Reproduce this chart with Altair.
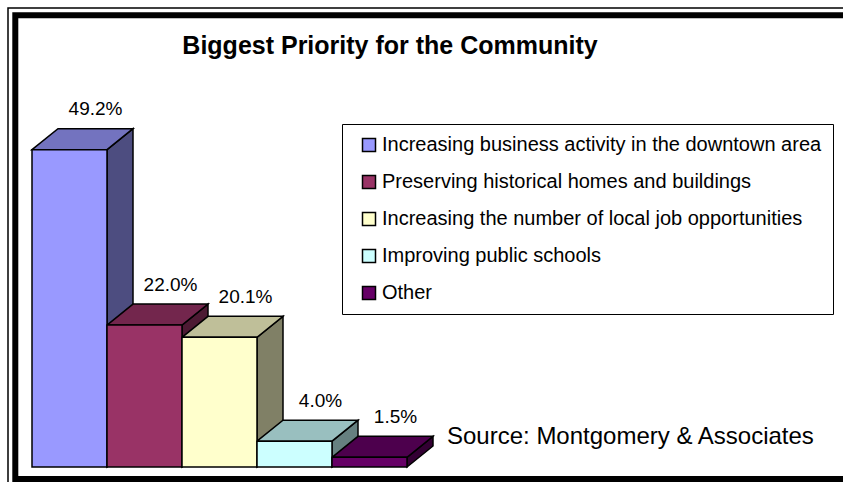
import altair as alt
import pandas as pd

# ---- data ----
categories = [
    "Increasing business activity in the downtown area",
    "Preserving historical homes and buildings",
    "Increasing the number of local job opportunities",
    "Improving public schools",
    "Other",
]
values = [49.2, 22.0, 20.1, 4.0, 1.5]
value_labels = ["49.2%", "22.0%", "20.1%", "4.0%", "1.5%"]
front_colors = ["#9999FF", "#993366", "#FFFFCC", "#CCFFFF", "#660066"]
top_colors = ["#7373BF", "#73264D", "#BFBF99", "#99BFBF", "#4D004D"]
side_colors = ["#4D4D80", "#4D1A33", "#808066", "#668080", "#330033"]
title_text = "Biggest Priority for the Community"
source_text = "Source: Montgomery & Associates"

FONT = "Liberation Sans, Arial, Helvetica, sans-serif"

# ---- geometry of the pseudo-3D bars (in data units) ----
BAR_PX = 75.0          # pixels per bar slot
PX_PER_PCT = 6.45      # pixels per percentage point
DX = 26.0 / BAR_PX     # depth, horizontal
DY = 21.0 / PX_PER_PCT # depth, vertical

X0 = -32.0 / BAR_PX
X1 = X0 + 843.0 / BAR_PX
Y0 = -(482.0 - 467.0) / PX_PER_PCT
Y1 = Y0 + 482.0 / PX_PER_PCT
xs = alt.Scale(domain=[X0, X1], nice=False, zero=False)
ys = alt.Scale(domain=[Y0, Y1], nice=False, zero=False)

front_rows, side_rows, top_rows, label_rows = [], [], [], []
for i, (c, v) in enumerate(zip(categories, values)):
    front_rows.append({"bar": i, "category": c, "x0": i, "x1": i + 1, "value": v, "base": 0.0})
    side_rows += [
        {"bar": i, "fill": side_colors[i], "x": i + 1, "lo": 0.0, "hi": v},
        {"bar": i, "fill": side_colors[i], "x": i + 1 + DX, "lo": DY, "hi": v + DY},
    ]
    top_rows += [
        {"bar": i, "fill": top_colors[i], "x": i, "lo": v, "hi": v},
        {"bar": i, "fill": top_colors[i], "x": i + DX, "lo": v, "hi": v + DY},
        {"bar": i, "fill": top_colors[i], "x": i + 1, "lo": v, "hi": v + DY},
        {"bar": i, "fill": top_colors[i], "x": i + 1 + DX, "lo": v + DY, "hi": v + DY},
    ]
    label_rows.append({"bar": i, "label": value_labels[i], "lx": i + 0.5 + DX, "ly": v + DY})

front_df = pd.DataFrame(front_rows)
side_df = pd.DataFrame(side_rows)
top_df = pd.DataFrame(top_rows)
label_df = pd.DataFrame(label_rows)
one = pd.DataFrame({"k": [0]})

side = alt.Chart(side_df).mark_area(
    stroke="black", strokeWidth=1.5, interpolate="linear", strokeJoin="miter"
).encode(
    x=alt.X("x:Q", scale=xs, axis=None),
    y=alt.Y("hi:Q", scale=ys, axis=None, stack=False),
    y2="lo:Q",
    detail="bar:N",
    color=alt.Color("fill:N", scale=None),
)

top = alt.Chart(top_df).mark_area(
    stroke="black", strokeWidth=1.5, interpolate="linear", strokeJoin="miter"
).encode(
    x=alt.X("x:Q", scale=xs, axis=None),
    y=alt.Y("hi:Q", scale=ys, axis=None, stack=False),
    y2="lo:Q",
    detail="bar:N",
    color=alt.Color("fill:N", scale=None),
)

front = alt.Chart(front_df).mark_rect(stroke="black", strokeWidth=1.5).encode(
    x=alt.X("x0:Q", scale=xs, axis=None),
    x2="x1:Q",
    y=alt.Y("value:Q", scale=ys, axis=None),
    y2="base:Q",
    color=alt.Color(
        "category:N",
        scale=alt.Scale(domain=categories, range=front_colors),
        legend=alt.Legend(
            title=None,
            orient="none",
            legendX=342,
            legendY=124,
            direction="vertical",
            symbolType="square",
            symbolSize=169,
            symbolStrokeColor="black",
            symbolStrokeWidth=1.5,
            symbolOffset=6,
            labelFont=FONT,
            labelFontSize=20,
            labelColor="black",
            labelLimit=700,
            labelOffset=3,
            rowPadding=17,
            padding=11,
            strokeColor="black",
            fillColor="white",
        ),
    ),
)

labels = alt.Chart(label_df).mark_text(
    font=FONT, fontSize=19, color="black", align="center", baseline="alphabetic", dy=-13.5
).encode(
    x=alt.X("lx:Q", scale=xs, axis=None),
    y=alt.Y("ly:Q", scale=ys, axis=None),
    text="label:N",
)

title = alt.Chart(one).mark_text(
    text=title_text, font=FONT, fontSize=25, fontWeight="bold", color="black",
    align="center", baseline="alphabetic",
).encode(x=alt.value(390), y=alt.value(54))

source = alt.Chart(one).mark_text(
    text=source_text, font=FONT, fontSize=24, color="black",
    align="left", baseline="alphabetic",
).encode(x=alt.value(447), y=alt.value(444))

frame_thin = alt.Chart(one).mark_rect(fill="transparent", stroke="black", strokeWidth=1.5).encode(
    x=alt.value(8), x2=alt.value(870), y=alt.value(8), y2=alt.value(490)
)
frame_thick = alt.Chart(one).mark_rect(fill="transparent", stroke="black", strokeWidth=6).encode(
    x=alt.value(15.3), x2=alt.value(860), y=alt.value(15.3), y2=alt.value(479)
)

chart = alt.layer(
    frame_thin, frame_thick, side, top, front, labels, title, source
).properties(
    width=843,
    height=482,
    padding=0,
    background="white",
    autosize=alt.AutoSizeParams(type="none"),
).configure_view(strokeWidth=0)

chart.save("out.html", embed_options={"renderer": "svg", "actions": False})
